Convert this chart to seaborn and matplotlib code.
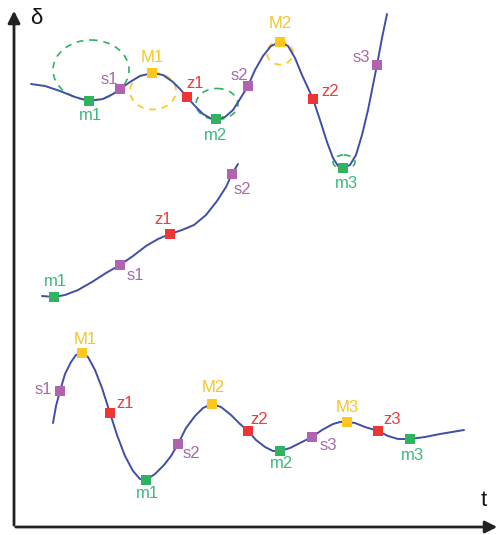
import matplotlib
matplotlib.use("Agg")
import matplotlib.pyplot as plt
import seaborn as sns
import pandas as pd
from matplotlib.patches import Ellipse

# --- curve traces (picture coordinates, y grows downwards) ---
c1_x = [31, 45, 60, 75, 89, 103, 113, 120, 130, 140, 152, 163, 173, 180, 187, 195, 203, 210, 216,
        225, 233, 240, 248, 255, 263, 271, 280, 288, 295, 302, 308, 313, 320, 327, 333, 338, 343,
        350, 356, 362, 368, 373, 377, 382, 387]
c1_y = [84, 86, 91, 97, 101, 99, 94, 89, 82, 76, 73, 75, 82, 89, 97, 106, 114, 118, 119,
        117, 110, 99, 86, 70, 56, 46, 42, 46, 58, 75, 88, 99, 120, 142, 158, 166, 168,
        165, 155, 135, 110, 85, 65, 38, 14]

c2_x = [42, 54, 65, 78, 92, 106, 120, 133, 146, 158, 170, 182, 194, 206, 217, 226, 232, 238]
c2_y = [296, 297, 295, 290, 282, 273, 265, 256, 246, 239, 234, 230, 225, 215, 201, 187, 174, 164]

c3_x = [53, 56, 60, 65, 71, 76, 82, 88, 95, 102, 110, 117, 125, 133, 140, 146, 155, 164, 171, 178,
        186, 195, 203, 212, 221, 231, 240, 248, 256, 265, 273, 280, 290, 300, 312, 322, 333, 340,
        347, 355, 365, 378, 388, 398, 410, 425, 440, 452, 464]
c3_y = [423, 406, 391, 374, 362, 355, 353, 357, 370, 388, 413, 435, 456, 471, 479, 480, 474, 465,
        456, 444, 428, 416, 408, 404, 407, 415, 424, 431, 440, 447, 451, 451, 448, 443, 437, 430,
        424, 422, 422, 423, 427, 431, 436, 439, 439, 437, 434, 432, 430]

# --- key points on each curve ---
k1_name = ["m1", "s1", "M1", "z1", "m2", "s2", "M2", "z2", "m3", "s3"]
k1_x = [89, 120, 152, 187, 216, 248, 280, 313, 343, 377]
k1_y = [101, 89, 73, 97, 119, 86, 42, 99, 168, 65]
k1_lx = [90, 109, 152, 195, 216, 239, 280, 330, 346, 361]
k1_ly = [115, 80, 57, 84, 135, 75, 24, 92, 183, 57]

k2_name = ["m1", "s1", "z1", "s2"]
k2_x = [54, 120, 170, 232]
k2_y = [297, 265, 234, 174]
k2_lx = [55, 135, 163, 242]
k2_ly = [282, 276, 220, 189]

k3_name = ["s1", "M1", "z1", "m1", "s2", "M2", "z2", "m2", "s3", "M3", "z3", "m3"]
k3_x = [60, 82, 110, 146, 178, 212, 248, 280, 312, 347, 378, 410]
k3_y = [391, 353, 413, 480, 444, 404, 431, 451, 437, 422, 431, 439]
k3_lx = [43, 85, 125, 147, 191, 213, 259, 282, 328, 347, 392, 412]
k3_ly = [390, 340, 403, 493, 454, 387, 420, 463, 446, 407, 420, 455]

# osculating circles on the top curve: centre x, centre y, width, height, kind
circ_x = [91, 153, 217, 280, 344]
circ_y = [70, 91, 104, 53, 162]
circ_w = [76, 46, 42, 26, 22]
circ_h = [60, 37, 31, 23, 14]
circ_kind = ["m", "M", "m", "M", "m"]

line_color = "#3f4fa6"
pt_colors = {"m": "#2fb35e", "M": "#ffc61e", "s": "#b064b0", "z": "#ee3535"}
txt_colors = {"m": "#3cb87a", "M": "#f6c52a", "s": "#a86aaa", "z": "#ee3a3a"}

sns.set_style("white")
plt.rcParams['font.family'] = ['Liberation Sans', 'DejaVu Sans']

fig = plt.figure(figsize=(5.01, 5.35), dpi=100)
ax = fig.add_axes([0, 0, 1, 1])

for cx, cy in [(c1_x, c1_y), (c2_x, c2_y), (c3_x, c3_y)]:
    df = pd.DataFrame({"x": cx, "y": cy})
    sns.lineplot(data=df, x="x", y="y", sort=False, estimator=None, color=line_color,
                 linewidth=1.4, ax=ax, zorder=3)

for x, y, w, h, k in zip(circ_x, circ_y, circ_w, circ_h, circ_kind):
    ax.add_patch(Ellipse((x, y), w, h, fill=False, linestyle=(0, (4, 3.5)), linewidth=1.2,
                         edgecolor=pt_colors[k], zorder=2))

for names, kx, ky, lx, ly in [(k1_name, k1_x, k1_y, k1_lx, k1_ly),
                              (k2_name, k2_x, k2_y, k2_lx, k2_ly),
                              (k3_name, k3_x, k3_y, k3_lx, k3_ly)]:
    df = pd.DataFrame({"name": names, "x": kx, "y": ky})
    df["kind"] = df["name"].str[0]
    sns.scatterplot(data=df, x="x", y="y", hue="kind", palette=pt_colors, marker="s", s=42,
                    edgecolor="none", legend=False, ax=ax, zorder=4)
    for n, tx, ty in zip(names, lx, ly):
        ax.text(tx, ty, n, color=txt_colors[n[0]], fontsize=12, ha="center", va="center")

# axes arrows
ax.annotate("", xy=(14, 8), xytext=(14, 528),
            arrowprops=dict(arrowstyle="-|>", lw=2, color="#222222", mutation_scale=18))
ax.annotate("", xy=(500, 527), xytext=(13, 527),
            arrowprops=dict(arrowstyle="-|>", lw=2, color="#222222", mutation_scale=18))
ax.text(36, 19, "δ", fontsize=16, ha="center", va="center", color="#111111")
ax.text(484, 500, "t", fontsize=16, ha="center", va="center", color="#111111")

ax.set_xlim(0, 501)
ax.set_ylim(535, 0)
ax.axis("off")

fig.savefig("out.png", dpi=100)
